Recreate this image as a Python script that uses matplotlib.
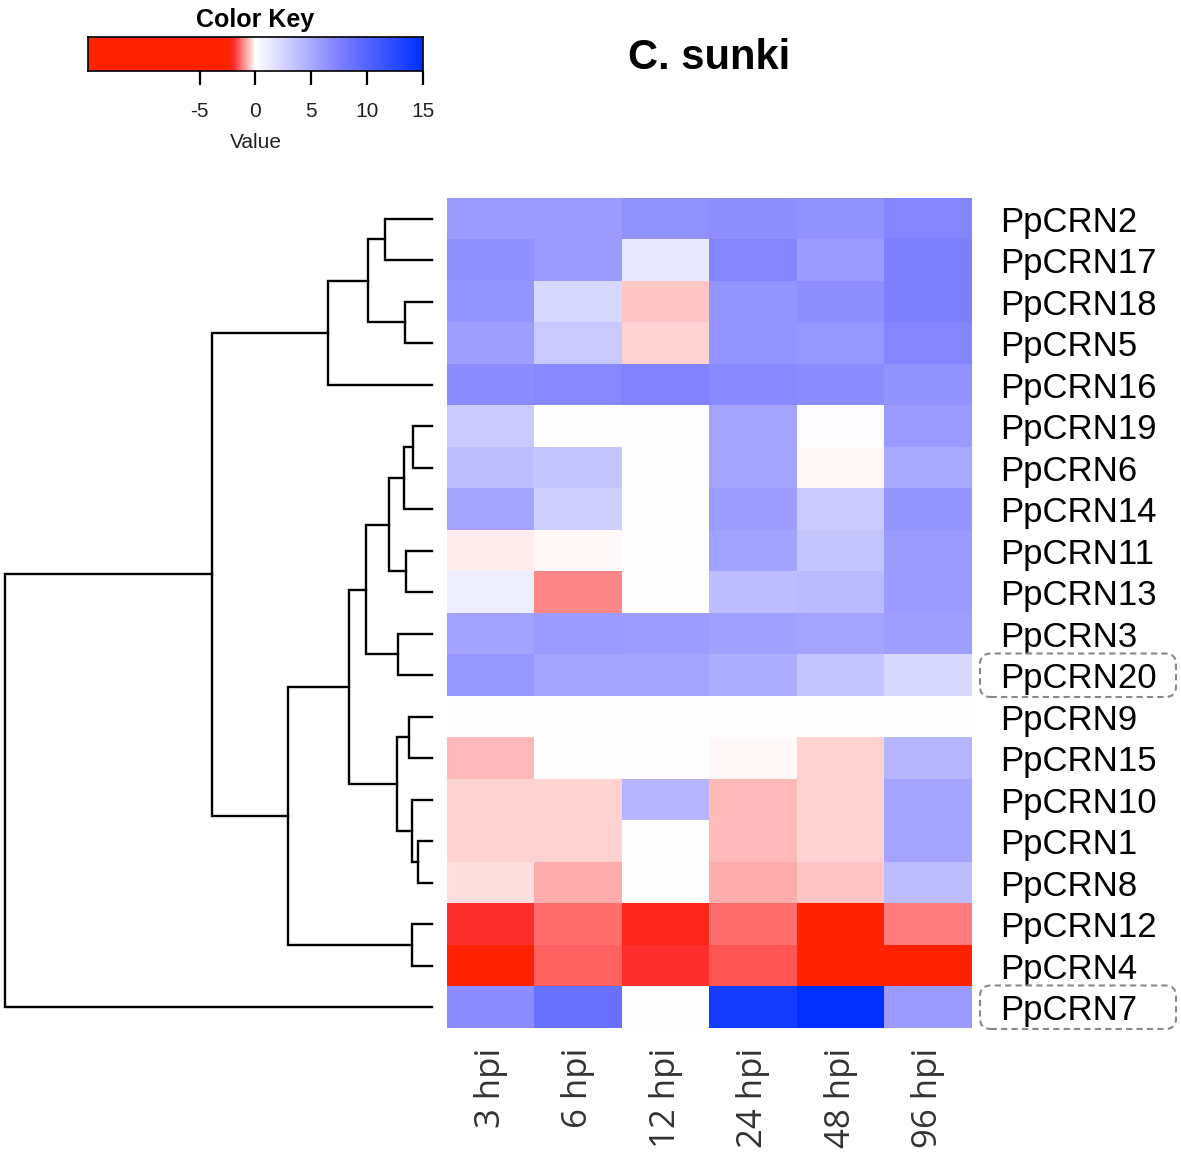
import numpy as np
import matplotlib.pyplot as plt
from matplotlib.colors import LinearSegmentedColormap, Normalize
from matplotlib.patches import FancyBboxPatch

# rows top to bottom (dendrogram order)
genes = ["PpCRN2", "PpCRN17", "PpCRN18", "PpCRN5", "PpCRN16", "PpCRN19",
         "PpCRN6", "PpCRN14", "PpCRN11", "PpCRN13", "PpCRN3", "PpCRN20",
         "PpCRN9", "PpCRN15", "PpCRN10", "PpCRN1", "PpCRN8", "PpCRN12",
         "PpCRN4", "PpCRN7"]
times = ["3 hpi", "6 hpi", "12 hpi", "24 hpi", "48 hpi", "96 hpi"]

values = np.array([
    [5.9, 5.9, 6.4, 6.6, 6.4, 7.2],
    [6.5, 5.9, 1.4, 7.2, 5.9, 7.5],
    [6.3, 2.3, -0.55, 6.3, 6.6, 7.6],
    [5.7, 3.25, -0.4, 6.3, 6.1, 7.2],
    [6.7, 7.0, 7.3, 7.0, 6.7, 6.4],
    [3.1, 0.0, 0.0, 5.3, 0.18, 5.9],
    [3.8, 3.5, 0.0, 5.3, -0.08, 5.1],
    [5.3, 2.8, 0.0, 5.8, 3.1, 6.3],
    [-0.21, -0.05, 0.0, 5.4, 3.5, 5.9],
    [0.94, -1.09, 0.0, 3.9, 4.1, 5.9],
    [5.4, 5.9, 5.8, 5.6, 5.3, 5.7],
    [6.1, 5.3, 5.3, 4.7, 3.5, 2.3],
    [0.0, 0.0, 0.0, 0.0, 0.0, 0.0],
    [-0.6, 0.0, 0.0, -0.06, -0.4, 4.25],
    [-0.36, -0.4, 4.4, -0.69, -0.36, 5.3],
    [-0.36, -0.4, 0.0, -0.69, -0.36, 5.3],
    [-0.28, -0.74, 0.0, -0.74, -0.48, 3.9],
    [-1.95, -1.3, -2.2, -1.3, -5.0, -1.2],
    [-5.0, -1.42, -1.92, -1.6, -5.0, -5.0],
    [6.7, 8.9, 0.0, 13.8, 15.0, 5.9],
])

# (left, right, height); ints refer to earlier merges
merges = [
    ("PpCRN2", "PpCRN17", 47),
    ("PpCRN18", "PpCRN5", 27),
    (0, 1, 64),
    (2, "PpCRN16", 104),
    ("PpCRN19", "PpCRN6", 19),
    (4, "PpCRN14", 28),
    ("PpCRN11", "PpCRN13", 26),
    (5, 6, 43),
    ("PpCRN3", "PpCRN20", 34),
    (7, 8, 66),
    ("PpCRN9", "PpCRN15", 23),
    ("PpCRN1", "PpCRN8", 14),
    ("PpCRN10", 11, 20),
    (10, 12, 35),
    (9, 13, 83),
    ("PpCRN12", "PpCRN4", 20),
    (14, 15, 144),
    (3, 16, 220),
    (17, "PpCRN7", 427),
]

highlighted = ["PpCRN20", "PpCRN7"]

key_ticks = [-5, 0, 5, 10, 15]
vmin, vmax = -15, 15


def main():
    W, H = 1181, 1156
    fig = plt.figure(figsize=(W / 100, H / 100), dpi=100)

    nodes = [(-15, "#FF2200"), (-2.5, "#FF2200"), (-2, "#FF2828"),
             (0, "#FFFFFF"), (7.5, "#8080FF"), (15, "#0030FF")]
    cmap = LinearSegmentedColormap.from_list(
        "key", [((v - vmin) / (vmax - vmin), c) for v, c in nodes])
    norm = Normalize(vmin, vmax)

    # heatmap
    hm_l, hm_t, hm_w, hm_h = 447, 198, 525, 830
    ax = fig.add_axes([hm_l / W, (H - hm_t - hm_h) / H, hm_w / W, hm_h / H])
    ax.imshow(values, cmap=cmap, norm=norm, aspect="auto",
              interpolation="nearest")
    ax.set_xticks(range(len(times)))
    ax.set_xticklabels(times, rotation=90, family="Open Sans", fontsize=25,
                       color="#333333")
    ax.set_yticks(range(len(genes)))
    ax.set_yticklabels(genes, family="Liberation Sans", fontsize=25)
    ax.yaxis.tick_right()
    ax.tick_params(axis="x", length=0, pad=14)
    ax.tick_params(axis="y", length=0, pad=20)
    for s in ax.spines.values():
        s.set_visible(False)

    # dashed boxes around highlighted labels
    row_h = hm_h / len(genes)
    for g in highlighted:
        i = genes.index(g)
        y_top = hm_t + row_h * i
        box = FancyBboxPatch(((hm_l + hm_w + 8) / W, (H - y_top - row_h - 1) / H),
                             196 / W, (row_h + 2) / H,
                             boxstyle="round,pad=0,rounding_size=0.009",
                             transform=fig.transFigure, fill=False,
                             ec="#888888", lw=1.5, ls=(0, (3, 2)))
        fig.add_artist(box)

    # row dendrogram
    axd = fig.add_axes([5 / W, (H - hm_t - hm_h) / H, 427 / W, hm_h / H])
    axd.set_xlim(427, 0)
    axd.set_ylim(len(genes) - 0.5, -0.5)
    axd.axis("off")
    pos = {name: (0.0, i) for i, name in enumerate(genes)}
    done = []
    for a, b, h in merges:
        ha, ya = done[a] if isinstance(a, int) else pos[a]
        hb, yb = done[b] if isinstance(b, int) else pos[b]
        axd.plot([ha, h, h, hb], [ya, ya, yb, yb], color="black", lw=1.7,
                 clip_on=False, solid_joinstyle="miter")
        done.append((h, (ya + yb) / 2))

    # colour key
    axk = fig.add_axes([88 / W, (H - 71) / H, 335 / W, 34 / H])
    grad = np.linspace(vmin, vmax, 400).reshape(1, -1)
    axk.imshow(grad, cmap=cmap, norm=norm, aspect="auto",
               extent=[vmin, vmax, 0, 1])
    axk.set_xlim(vmin, vmax)
    axk.set_yticks([])
    axk.set_xticks(key_ticks)
    axk.set_xticklabels([str(t) for t in key_ticks], family="Liberation Sans",
                        fontsize=15, color="#222222")
    axk.tick_params(axis="x", length=10, width=1.6, pad=12)
    for s in axk.spines.values():
        s.set_linewidth(1.2)
    axk.set_xlabel("Value", family="Liberation Sans", fontsize=15,
                   color="#222222", labelpad=9)
    axk.set_title("Color Key", family="Liberation Sans", fontsize=18,
                  fontweight="bold", pad=7)

    fig.text(709 / W, 1 - 58 / H, "C. sunki", family="Liberation Sans",
             fontsize=30, fontweight="bold", ha="center", va="center")

    fig.savefig("out.png", dpi=100)


if __name__ == "__main__":
    main()
